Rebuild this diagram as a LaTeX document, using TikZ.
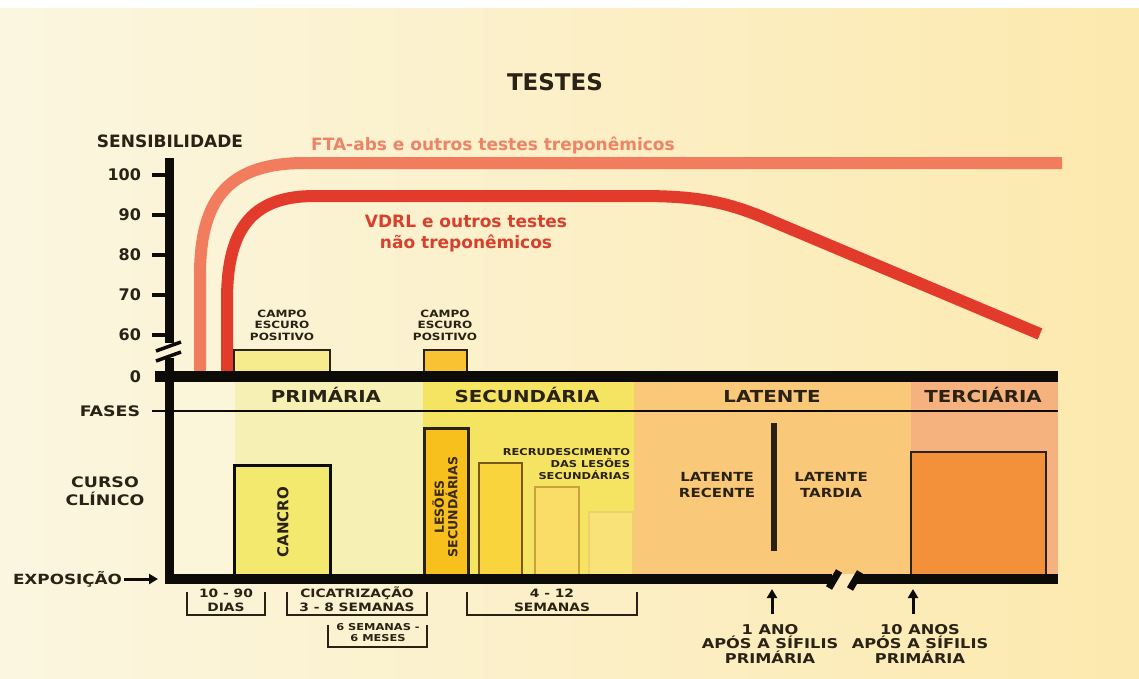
\documentclass[tikz,border=0pt]{standalone}
\usepackage{fontspec}
\setmainfont{DejaVu Sans}
\newfontfamily\widefont{DejaVu Sans}[FakeStretch=1.2]
\usetikzlibrary{arrows.meta}
\definecolor{bgL}{HTML}{FBF6E0}
\definecolor{bgR}{HTML}{FCE9AE}
\definecolor{ink}{HTML}{2A2214}
\definecolor{axisk}{HTML}{0D0B08}
\definecolor{fta}{HTML}{F27D5E}
\definecolor{ftat}{HTML}{EE8466}
\definecolor{vdrl}{HTML}{E23A2B}
\definecolor{vdrlt}{HTML}{D8402E}
\definecolor{pre}{HTML}{FBF5DA}
\definecolor{prim}{HTML}{F6F0B4}
\definecolor{sec}{HTML}{F4E462}
\definecolor{lat}{HTML}{F9C878}
\definecolor{ter}{HTML}{F6B27E}
\definecolor{terbox}{HTML}{F3913B}
\definecolor{cancro}{HTML}{F3E96E}
\definecolor{campoA}{HTML}{F6EC8E}
\definecolor{campoB}{HTML}{F8C232}
\definecolor{lesoes}{HTML}{F8C01C}
\definecolor{barA}{HTML}{F9D43C}
\definecolor{barB}{HTML}{F9DD66}
\definecolor{barC}{HTML}{F9E278}
\newcommand\fsz[2]{\fontsize{#1}{#2}\selectfont}
\begin{document}
\begin{tikzpicture}[x=1pt,y=-1pt,
  txt/.style={inner sep=0pt,outer sep=0pt,text=ink,align=center},
  boxn/.style={inner sep=0pt,outer sep=0pt,anchor=north west},
  brk/.style={draw=ink,line width=1.8pt},
  upar/.style={draw=axisk,line width=3pt,-{Triangle[length=9pt,width=10pt]}},
  axl/.style={draw=axisk,line width=10pt},
  tick/.style={draw=axisk,line width=3.5pt},
  curve/.style={line width=12pt}]
\useasboundingbox (0,0) rectangle (1139,678);
\fill[white] (0,0) rectangle (1139,678);
\shade[left color=bgL,right color=bgR] (0,8) rectangle (1139,678);
% phase bands
\fill[pre] (174,382) rectangle (235,574);
\fill[prim] (235,382) rectangle (423,574);
\fill[sec] (423,382) rectangle (634,574);
\fill[lat] (634,382) rectangle (911,574);
\fill[ter] (911,382) rectangle (1058,574);
% curves
\draw[curve,fta] (200,372) -- (200,275) .. controls (200,195) and (232,163) .. (305,163) -- (1062,163);
\draw[curve,vdrl] (227,372) -- (227,300) .. controls (227,225) and (255,196) .. (315,196) -- (640,196) .. controls (690,196) and (720,200) .. (760,216) -- (1040,334);
% boxes
\node[boxn,draw=ink,line width=2pt,fill=campoA,minimum width=96pt,minimum height=24pt] (campo1) at (234,350) {};
\node[boxn,draw=ink,line width=2pt,fill=campoB,minimum width=43pt,minimum height=24pt] (campo2) at (424,350) {};
\node[boxn,draw=axisk,line width=3pt,fill=cancro,minimum width=96pt,minimum height=113pt] (cancrob) at (234,465) {};
\node[boxn,draw=ink,line width=3pt,fill=lesoes,minimum width=44pt,minimum height=150pt] (lesb) at (424,428) {};
\node[boxn,draw={rgb,255:red,122;green,90;blue,26},line width=2.5pt,fill=barA,minimum width=43pt,minimum height=115pt] (bar1) at (479,463) {};
\node[boxn,draw={rgb,255:red,201;green,162;blue,58},line width=2pt,fill=barB,minimum width=44pt,minimum height=91pt] (bar2) at (535,487) {};
\node[boxn,draw={rgb,255:red,239;green,208;blue,112},line width=1.5pt,fill=barC,minimum width=44pt,minimum height=66pt] (bar3) at (589,512) {};
\node[boxn,draw=ink,line width=2.5pt,fill=terbox,minimum width=135pt,minimum height=126pt] (terb) at (911,452) {};
\draw[ink,line width=5.5pt] (774,423) -- (774,551);
% axes
\draw[axl,line width=11pt] (155,376) -- (1058,376);
\draw[axisk,line width=2.2pt] (152,411) -- (1058,411);
\draw[axl,line width=9pt] (169,158) -- (169,343);
\draw[axl,line width=9pt] (169,358) -- (169,584);
\draw[tick] (156,351) -- (181,342);
\draw[tick] (156,361) -- (181,352);
\draw[axl] (165,579) -- (832,579);
\draw[axl] (856,579) -- (1058,579);
\draw[axisk,line width=7pt] (829,588) -- (839,571);
\draw[axisk,line width=7pt] (850,589) -- (860,572);
\foreach \y/\v in {175/100,215/90,255/80,295/70,335/60}{
  \draw[tick] (152,\y) -- (169,\y);
  \node[txt,anchor=base east,font=\fsz{16}{18}\bfseries] (n\v) at (141,\y+5.8) {\v};
}
\node[txt,anchor=base east,font=\fsz{16}{18}\bfseries] (n0) at (141,382) {0};
% titles
\node[txt,anchor=base,font=\fsz{23}{26}\bfseries] (title) at (555,90) {TESTES};
\node[txt,anchor=base,font=\fsz{17}{20}\bfseries] (sens) at (170,147) {SENSIBILIDADE};
\node[txt,anchor=base,font=\fsz{17}{20}\bfseries,text=ftat] (ftal) at (493,150) {FTA-abs e outros testes treponêmicos};
\node[txt,anchor=base,font=\fsz{17}{21}\bfseries,text=vdrlt] (vdrll) at (466,248) {VDRL e outros testes\\não treponêmicos};
% side labels
\node[txt,anchor=base,font=\widefont\fsz{14.5}{18}\bfseries] (fases) at (110,416) {FASES};
\node[txt,anchor=base,font=\widefont\fsz{14.5}{18}\bfseries] (curso) at (105,505) {CURSO\\CLÍNICO};
\node[txt,anchor=base east,font=\widefont\fsz{14}{18}\bfseries] (expo) at (122,584) {EXPOSIÇÃO};
\coordinate (expoend) at (158,579);
\draw[upar] (expo.east |- expoend) ++(2,0) -- (expoend);
% phase labels
\node[txt,anchor=base,font=\widefont\fsz{16.5}{18}\bfseries] (pprim) at (326,402) {PRIMÁRIA};
\node[txt,anchor=base,font=\widefont\fsz{16.5}{18}\bfseries] (psec) at (527,402) {SECUNDÁRIA};
\node[txt,anchor=base,font=\widefont\fsz{16.5}{18}\bfseries] (plat) at (772,402) {LATENTE};
\node[txt,anchor=base,font=\widefont\fsz{16.5}{18}\bfseries] (pter) at (983,402) {TERCIÁRIA};
% small labels
\node[txt,anchor=base,font=\widefont\fsz{10}{11.5}\bfseries] (c1l) at (282,340) {CAMPO\\ESCURO\\POSITIVO};
\node[txt,anchor=base,font=\widefont\fsz{10}{11.5}\bfseries] (c2l) at (445,340) {CAMPO\\ESCURO\\POSITIVO};
\node[txt,anchor=base east,align=right,font=\widefont\fsz{9.5}{12}\bfseries] (recl) at (630,479.5) {RECRUDESCIMENTO\\DAS LESÕES\\SECUNDÁRIAS};
\node[txt,rotate=90,font=\fsz{15}{17}\bfseries] (cancrol) at (283,522) {CANCRO};
\node[txt,rotate=90,font=\fsz{12.5}{13.5}\bfseries,text={rgb,255:red,58;green,42;blue,16}] (lesl) at (445,507) {LESÕES\\SECUNDÁRIAS};
\node[txt,anchor=base,font=\widefont\fsz{12.5}{16}\bfseries] (latrec) at (717,497) {LATENTE\\RECENTE};
\node[txt,anchor=base,font=\widefont\fsz{12.5}{16}\bfseries] (lattar) at (831,497) {LATENTE\\TARDIA};
% brackets
\draw[brk] (187,592) -- (187,615) -- (265,615) -- (265,592);
\draw[brk] (287,592) -- (287,615) -- (427,615) -- (427,592);
\draw[brk] (328,625) -- (328,647) -- (427,647) -- (427,625);
\draw[brk] (467,592) -- (467,615) -- (637,615) -- (637,592);
\node[txt,anchor=base,font=\widefont\fsz{11.5}{14}\bfseries] (dias) at (226,611) {10 - 90\\DIAS};
\node[txt,anchor=base,font=\widefont\fsz{11.5}{14}\bfseries] (cicat) at (357,611) {CICATRIZAÇÃO\\3 - 8 SEMANAS};
\node[txt,anchor=base,font=\widefont\fsz{9.5}{11}\bfseries] (meses) at (378,641) {6 SEMANAS -\\6 MESES};
\node[txt,anchor=base,font=\widefont\fsz{11.5}{14}\bfseries] (sem) at (552,611) {4 - 12\\SEMANAS};
% bottom arrows
\node[txt,anchor=base,font=\widefont\fsz{13.5}{14.5}\bfseries] (ano1) at (770,663) {1 ANO\\APÓS A SÍFILIS\\PRIMÁRIA};
\node[txt,anchor=base,font=\widefont\fsz{13.5}{14.5}\bfseries] (ano10) at (920,663) {10 ANOS\\APÓS A SÍFILIS\\PRIMÁRIA};
\coordinate (a1s) at (772,614);
\coordinate (a1e) at (772,589);
\coordinate (a10s) at (913,614);
\coordinate (a10e) at (913,589);
\draw[upar] (a1s) -- (a1e);
\draw[upar] (a10s) -- (a10e);
\end{tikzpicture}
\end{document}
